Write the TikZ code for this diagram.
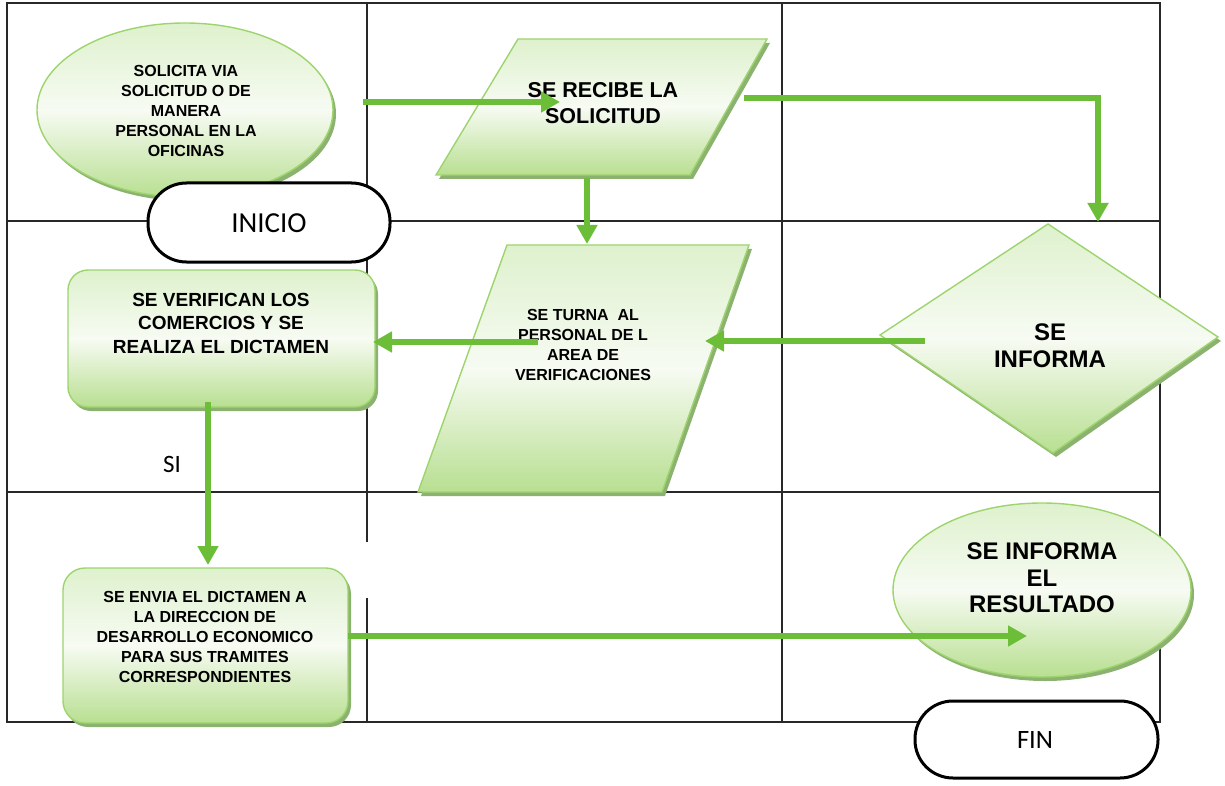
\documentclass[tikz,border=0pt]{standalone}
\usepackage{fontspec}
\setmainfont{Liberation Sans}
\newfontfamily\calib{Carlito}
\usetikzlibrary{arrows.meta,shadows}
\definecolor{lineg}{RGB}{108,190,56}
\definecolor{edgeg}{RGB}{158,212,110}
\definecolor{shadg}{RGB}{140,178,112}
\definecolor{topg}{RGB}{222,241,205}
\definecolor{midg}{RGB}{247,251,243}
\definecolor{botg}{RGB}{184,223,145}
\definecolor{gridc}{RGB}{40,40,40}
\tikzset{
  gridline/.style={draw=gridc,line width=1.3},
  gshape/.style={draw=edgeg,line width=1.4,top color=topg,bottom color=botg,middle color=midg,
    drop shadow={shadow xshift=3pt,shadow yshift=-4pt,fill=shadg,opacity=1}},
  term/.style={draw=black,line width=3,fill=white},
  garrow/.style={draw=lineg,line width=6,-{Triangle[length=19pt,width=20pt]}},
  smalltxt/.style={font=\fontsize{16}{20}\selectfont\bfseries,align=center,inner sep=0pt},
  midtxt/.style={font=\fontsize{19}{23.5}\selectfont\bfseries,align=center,inner sep=0pt},
  bigtxt/.style={font=\fontsize{24}{26.7}\selectfont\bfseries,align=center,inner sep=0pt},
  termtxt/.style={font=\calib\fontsize{29}{31}\selectfont,inner sep=0pt}
}
\begin{document}
\begin{tikzpicture}[x=1pt,y=-1pt]
\useasboundingbox (0,0) rectangle (1225,786);
% grid
\draw[gridline] (7,3) rectangle (1160,722);
\draw[gridline] (7,221) -- (1160,221);
\draw[gridline] (7,492) -- (1160,492);
\draw[gridline] (367,3) -- (367,542);
\draw[gridline] (367,598) -- (367,722);
\draw[gridline] (782,3) -- (782,722);
% shapes
\path[gshape] (185,110) ellipse [x radius=148, y radius=87];
\node[smalltxt] (sol) at (186,111) {SOLICITA VIA\\SOLICITUD O DE\\MANERA\\PERSONAL EN LA\\OFICINAS};
\path[term,rounded corners=38.5pt] (148,183) rectangle (390,262);
\node[termtxt] (ini) at (269,223) {INICIO};
\path[gshape] (518,39) -- (767,39) -- (690,175) -- (436,175) -- cycle;
\node[font=\fontsize{21.5}{26.7}\selectfont\bfseries,align=center,inner sep=0pt] (rec) at (603,103) {SE RECIBE LA\\SOLICITUD};
\path[gshape] (507,245) -- (749,245) -- (662,492) -- (418,492) -- cycle;
\node[smalltxt] (tur) at (583,345) {SE TURNA~ AL\\PERSONAL DE L\\AREA DE\\VERIFICACIONES};
\path[gshape] (1048,224) -- (1218,337) -- (1053,453) -- (880,335) -- cycle;
\node[bigtxt] (inf) at (1050,346) {SE\\INFORMA};
\path[gshape,rounded corners=20pt] (68,270) rectangle (375,407);
\node[midtxt] (ver) at (221,323) {SE VERIFICAN LOS\\COMERCIOS Y SE\\REALIZA EL DICTAMEN};
\node[font=\calib\fontsize{25}{27}\selectfont,inner sep=0pt] (si) at (172,464) {SI};
\path[gshape,rounded corners=22pt] (63,568) rectangle (348,723);
\node[smalltxt] (env) at (205,637) {SE ENVIA EL DICTAMEN A\\LA DIRECCION DE\\DESARROLLO ECONOMICO\\PARA SUS TRAMITES\\CORRESPONDIENTES};
\path[gshape] (1042,590) ellipse [x radius=149, y radius=87];
\node[bigtxt] (res) at (1042,578) {SE INFORMA\\EL\\RESULTADO};
\path[term,rounded corners=38pt] (915,701) rectangle (1158,778);
\node[termtxt,font=\calib\fontsize{26.5}{28}\selectfont] (fin) at (1035,740) {FIN};
% connectors
\coordinate (a1s) at (363,102);
\coordinate (a1e) at (560,102);
\coordinate (a2s) at (744,98);
\coordinate (a2e) at (1098,222);
\coordinate (a3s) at (587,178);
\coordinate (a3e) at (587,244);
\coordinate (a4s) at (925,341);
\coordinate (a4e) at (705,341);
\coordinate (a5s) at (538,342);
\coordinate (a5e) at (373,342);
\coordinate (a6s) at (208,402);
\coordinate (a6e) at (208,565);
\coordinate (a7s) at (348,636);
\coordinate (a7e) at (1027,636);
\draw[garrow] (a1s) -- (a1e);
\draw[garrow] (a2s) -| (a2e);
\draw[garrow] (a3s) -- (a3e);
\draw[garrow] (a4s) -- (a4e);
\draw[garrow] (a5s) -- (a5e);
\draw[garrow] (a6s) -- (a6e);
\draw[garrow] (a7s) -- (a7e);
\end{tikzpicture}
\end{document}
